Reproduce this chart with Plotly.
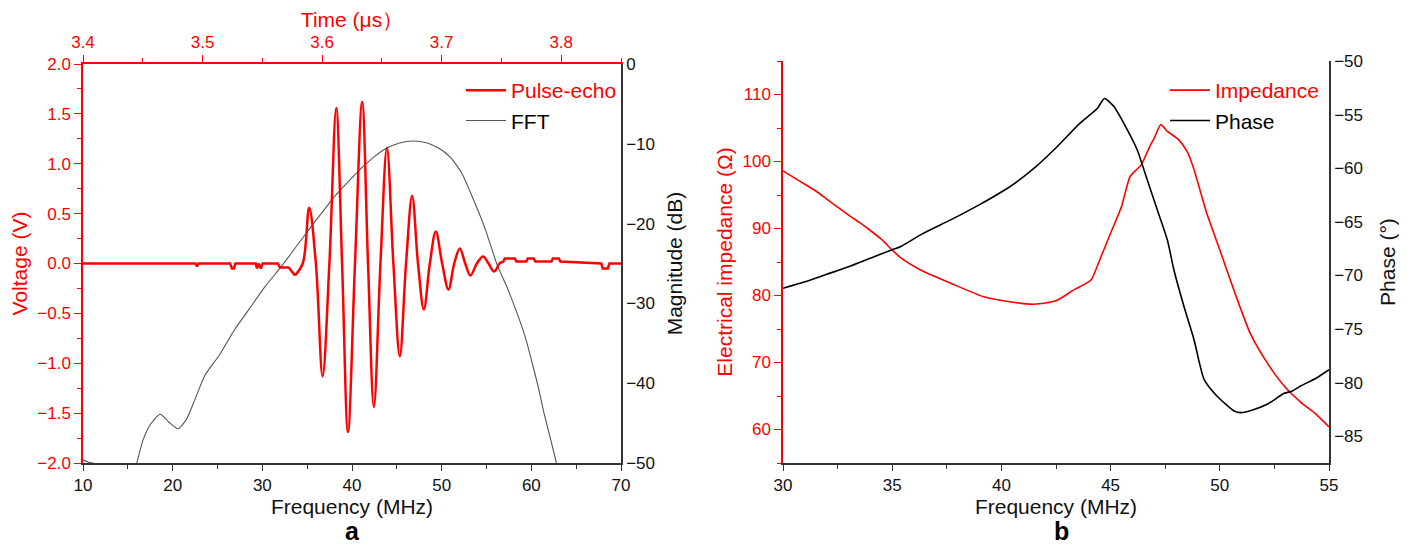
import plotly.graph_objects as go

# ---------------- Data: panel a ----------------
# Pulse-echo (time in microseconds, voltage in V)
pulse_pre_t = [3.400, 3.4940, 3.4953, 3.4966, 3.5230, 3.5246, 3.5262, 3.5275, 3.5445, 3.5455,
               3.5468, 3.5488, 3.5502, 3.5630, 3.5647, 3.5720, 3.5773]
pulse_pre_v = [0.00, 0.00, -0.03, 0.00, 0.00, -0.05, -0.05, 0.00, 0.00, -0.05,
               0.00, -0.05, 0.00, 0.00, -0.04, -0.04, -0.12]

pulse_burst_t = [3.5773, 3.5838, 3.5892, 3.5948, 3.6004, 3.6061, 3.6118, 3.6167, 3.6216, 3.6275,
                 3.6335, 3.6384, 3.6433, 3.6488, 3.6542, 3.6596, 3.6650, 3.6702, 3.6753, 3.6802,
                 3.6851, 3.6901, 3.6951, 3.7004, 3.7057, 3.7105, 3.7152, 3.7197, 3.7241, 3.7294,
                 3.7346, 3.7392, 3.7438, 3.7480]
pulse_burst_v = [-0.12, 0.00, 0.56, 0.00, -1.13, 0.00, 1.56, 0.00, -1.69, 0.00,
                 1.62, 0.00, -1.44, 0.00, 1.16, 0.00, -0.93, 0.00, 0.68, 0.00,
                 -0.46, 0.00, 0.32, 0.00, -0.26, 0.00, 0.15, 0.00, -0.12, 0.00,
                 0.07, 0.00, -0.08, 0.00]

pulse_post_t = [3.7480, 3.7515, 3.7528, 3.7612, 3.7625, 3.7708, 3.7720, 3.7770, 3.7783, 3.7918,
                3.7930, 3.7980, 3.7993, 3.8335, 3.8347, 3.8390, 3.8403, 3.8500]
pulse_post_v = [0.00, 0.02, 0.05, 0.05, 0.02, 0.02, 0.05, 0.05, 0.02, 0.02,
                0.05, 0.05, 0.02, 0.00, -0.05, -0.05, 0.00, 0.00]

# FFT magnitude (frequency in MHz, dB)
fft_f = [10.0, 10.6, 11.6, 12.5, 15.5, 16.0, 16.7, 17.5, 18.6, 19.6, 20.6, 21.5, 22.5, 23.6,
         25.2, 26.9, 28.6, 30.3, 32.1, 33.7, 35.3, 36.8, 38.2, 39.7, 41.2, 42.5, 43.8, 45.3,
         46.8, 48.3, 49.6, 50.9, 52.2, 53.4, 54.8, 56.2, 57.3, 58.5, 59.4, 60.1, 60.8, 61.4,
         62.1, 62.8, 63.2]
fft_db = [-49.6, -49.9, -50.2, -52.0, -52.0, -50.0, -47.1, -45.2, -43.9, -44.9, -45.7, -44.6,
          -42.0, -39.0, -36.5, -33.3, -30.6, -27.9, -25.4, -23.0, -20.6, -18.4, -16.4, -14.6,
          -12.9, -11.6, -10.6, -9.9, -9.65, -9.86, -10.5, -11.6, -13.6, -16.6, -20.5, -25.2,
          -28.0, -31.5, -34.5, -37.5, -40.6, -43.7, -46.8, -50.0, -52.0]

# ---------------- Data: panel b ----------------
imp_f = [30.0, 30.5, 31.0, 31.5, 32.0, 32.5, 33.0, 33.5, 34.0, 34.5, 35.0, 35.4, 36.3, 37.7,
         39.2, 40.3, 41.5, 42.5, 43.3, 44.1, 44.5, 45.0, 45.5, 45.9, 46.4, 46.8, 47.0, 47.3,
         47.6, 48.1, 48.5, 48.8, 49.4, 50.0, 50.7, 51.4, 52.2, 53.0, 53.7, 54.4, 55.0]
imp_ohm = [98.6, 97.6, 96.6, 95.6, 94.4, 93.2, 92.0, 90.9, 89.7, 88.4, 86.8, 85.6, 83.8, 81.8,
           79.8, 79.1, 78.7, 79.2, 80.8, 82.3, 85.3, 89.3, 93.3, 97.8, 99.5, 102.3, 103.5, 105.5,
           104.5, 103.3, 101.5, 99.0, 92.3, 86.8, 80.3, 74.3, 69.8, 66.3, 64.1, 62.3, 60.4]

phase_f = [30.0, 31.0, 32.0, 33.0, 34.0, 35.0, 35.4, 36.4, 37.7, 39.0, 40.3, 41.5, 42.55, 43.6,
           44.4, 44.72, 45.15, 45.76, 46.22, 46.68, 47.14, 47.6, 47.9, 48.36, 48.82, 49.28, 49.89,
           50.66, 50.96, 51.57, 52.19, 52.95, 53.3, 53.72, 54.4, 55.0]
phase_deg = [-71.2, -70.6, -69.9, -69.2, -68.4, -67.6, -67.3, -66.1, -64.8, -63.4, -61.85, -60.0,
             -58.0, -55.8, -54.4, -53.5, -54.25, -56.4, -58.3, -61.1, -63.9, -66.7, -69.5, -72.9,
             -76.0, -79.7, -81.3, -82.65, -82.8, -82.5, -82.0, -81.0, -80.8, -80.3, -79.6, -78.8]

# Axis tick values
freq_ticks_a = [10, 20, 30, 40, 50, 60, 70]
time_ticks = [3.4, 3.5, 3.6, 3.7, 3.8]
volt_ticks = [-2.0, -1.5, -1.0, -0.5, 0.0, 0.5, 1.0, 1.5, 2.0]
mag_ticks = [0, -10, -20, -30, -40, -50]
freq_ticks_b = [30, 35, 40, 45, 50, 55]
imp_ticks = [60, 70, 80, 90, 100, 110]
phase_ticks = [-50, -55, -60, -65, -70, -75, -80, -85]

# ---------------- Figure ----------------
# The page body has an 8px margin, so the figure is sized to fit inside it.
PAGE_W, PAGE_H, OFF = 1407, 554, 8
W, H = PAGE_W - 2 * OFF, PAGE_H - 2 * OFF
RED = "#ff0000"
DARK = "#333333"
FONT = "Liberation Sans, Arial, sans-serif"


def px(xpix):
    return (xpix - OFF) / W


def py(ypix):
    return 1 - (ypix - OFF) / H


fig = go.Figure()

# Panel a: pulse-echo on (x2 = time, top) / (y2 = voltage, left)
fig.add_trace(go.Scatter(x=pulse_pre_t, y=pulse_pre_v, xaxis="x2", yaxis="y2", mode="lines",
                         line=dict(color=RED, width=2.5), showlegend=False, hoverinfo="skip"))
fig.add_trace(go.Scatter(x=pulse_burst_t, y=pulse_burst_v, xaxis="x2", yaxis="y2", mode="lines",
                         line=dict(color=RED, width=2.5, shape="spline", smoothing=1.0),
                         name="<span style='color:#ff0000'>Pulse-echo</span>", legend="legend"))
fig.add_trace(go.Scatter(x=pulse_post_t, y=pulse_post_v, xaxis="x2", yaxis="y2", mode="lines",
                         line=dict(color=RED, width=2.5), showlegend=False, hoverinfo="skip"))
# Panel a: FFT on (x = frequency, bottom) / (y = magnitude, right)
fig.add_trace(go.Scatter(x=fft_f, y=fft_db, xaxis="x", yaxis="y", mode="lines",
                         line=dict(color="#555555", width=1.1, shape="spline", smoothing=0.6),
                         name="<span style='color:#000000'>FFT</span>", legend="legend"))

# Panel b traces
fig.add_trace(go.Scatter(x=imp_f, y=imp_ohm, xaxis="x3", yaxis="y3", mode="lines",
                         line=dict(color=RED, width=1.6, shape="spline", smoothing=0.6),
                         name="<span style='color:#ff0000'>Impedance</span>", legend="legend2"))
fig.add_trace(go.Scatter(x=phase_f, y=phase_deg, xaxis="x3", yaxis="y4", mode="lines",
                         line=dict(color="#000000", width=1.6, shape="spline", smoothing=0.6),
                         name="<span style='color:#000000'>Phase</span>", legend="legend2"))

tickfont_red = dict(family=FONT, size=17, color=RED)
tickfont_blk = dict(family=FONT, size=17, color="#111111")
titlefont_red = dict(family=FONT, size=21, color=RED)
titlefont_blk = dict(family=FONT, size=21, color="#111111")

dom_ax = [px(83), px(621)]
dom_ay = [py(463), py(64)]
dom_bx = [px(783), px(1329)]
dom_by = [py(463), py(61)]

common = dict(showgrid=False, zeroline=False, showline=True, linewidth=1.5, automargin=False)

fig.update_layout(
    width=W, height=H,
    margin=dict(l=0, r=0, t=0, b=0),
    paper_bgcolor="white", plot_bgcolor="white",
    font=dict(family=FONT, size=17, color="#111111"),
    # panel a
    xaxis=dict(domain=dom_ax, anchor="y", range=[10, 70], tickvals=freq_ticks_a,
               linecolor=DARK, ticks="outside", ticklen=6, tickwidth=1.3, tickcolor=DARK,
               minor=dict(dtick=5, ticks="outside", ticklen=4, tickwidth=1.2, tickcolor=DARK),
               tickfont=tickfont_blk,
               title=dict(text="Frequency (MHz)", font=titlefont_blk, standoff=0), **common),
    yaxis=dict(domain=dom_ay, anchor="x", side="right", range=[-50, 0], tickvals=mag_ticks,
               linecolor=DARK, ticks="", tickfont=tickfont_blk,
               title=dict(text="Magnitude (dB)", font=titlefont_blk, standoff=13), **common),
    xaxis2=dict(overlaying="x", anchor="y", side="top", range=[3.4, 3.85], tickvals=time_ticks,
                tickformat=".1f", linecolor=RED,
                ticks="outside", ticklen=7, tickwidth=1.3, tickcolor=RED,
                minor=dict(dtick=0.05, tick0=3.4, ticks="outside", ticklen=4, tickwidth=1.2,
                           tickcolor=RED),
                tickfont=tickfont_red,
                title=dict(text="Time (μs）", font=titlefont_red, standoff=4), **common),
    yaxis2=dict(overlaying="y", anchor="x", side="left", range=[-2, 2], tickvals=volt_ticks,
                tickformat=".1f", linecolor=RED,
                ticks="outside", ticklen=7, tickwidth=1.3, tickcolor=RED,
                minor=dict(dtick=0.25, tick0=0, ticks="outside", ticklen=4, tickwidth=1.2,
                           tickcolor=RED),
                tickfont=tickfont_red,
                title=dict(text="Voltage (V)", font=titlefont_red, standoff=4), **common),
    # panel b
    xaxis3=dict(domain=dom_bx, anchor="y3", range=[30, 55], tickvals=freq_ticks_b,
                linecolor=DARK, ticks="outside", ticklen=6, tickwidth=1.3, tickcolor=DARK,
                minor=dict(dtick=2.5, ticks="outside", ticklen=4, tickwidth=1.2, tickcolor=DARK),
                tickfont=tickfont_blk,
                title=dict(text="Frequency (MHz)", font=titlefont_blk, standoff=0), **common),
    xaxis4=dict(overlaying="x3", anchor="y3", side="top", range=[30, 55], tickvals=freq_ticks_b,
                showticklabels=False, linecolor=RED,
                ticks="outside", ticklen=7, tickwidth=1.3, tickcolor="#555555",
                minor=dict(dtick=2.5, ticks="outside", ticklen=4, tickwidth=1.2,
                           tickcolor="#555555"), **common),
    yaxis3=dict(domain=dom_by, anchor="x3", range=[55, 115], tickvals=imp_ticks,
                linecolor=RED, ticks="outside", ticklen=7, tickwidth=1.3, tickcolor=RED,
                minor=dict(dtick=5, ticks="outside", ticklen=4, tickwidth=1.2, tickcolor=RED),
                tickfont=tickfont_red,
                title=dict(text="Electrical impedance (Ω)", font=titlefont_red, standoff=4),
                **common),
    yaxis4=dict(overlaying="y3", anchor="x3", side="right", range=[-87.5, -50],
                tickvals=phase_ticks, linecolor=DARK, ticks="", tickfont=tickfont_blk,
                title=dict(text="Phase (°)", font=titlefont_blk, standoff=27), **common),
    legend=dict(x=px(461), y=py(70), xanchor="left", yanchor="top",
                bgcolor="rgba(0,0,0,0)", borderwidth=0,
                font=dict(family=FONT, size=21), tracegroupgap=0, itemwidth=40),
    legend2=dict(x=px(1165), y=py(70), xanchor="left", yanchor="top",
                 bgcolor="rgba(0,0,0,0)", borderwidth=0,
                 font=dict(family=FONT, size=21), tracegroupgap=0, itemwidth=40),
    showlegend=True,
    annotations=[
        dict(text="<b>a</b>", x=px(352), y=py(531), xref="paper", yref="paper",
             xanchor="center", yanchor="middle",
             showarrow=False, font=dict(family=FONT, size=25, color="#000000")),
        dict(text="<b>b</b>", x=px(1061), y=py(531), xref="paper", yref="paper",
             xanchor="center", yanchor="middle",
             showarrow=False, font=dict(family=FONT, size=25, color="#000000")),
    ],
)

fig.write_html("out.html")
